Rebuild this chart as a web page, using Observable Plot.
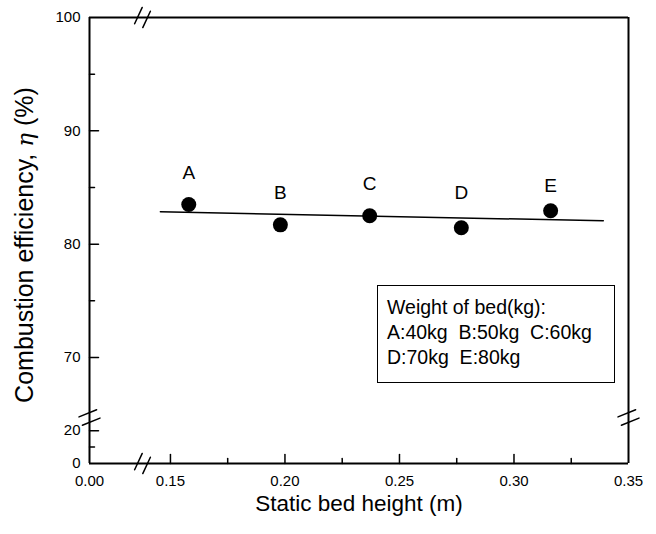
<!DOCTYPE html>
<html>
<head>
<meta charset="utf-8">
<script src="https://cdn.jsdelivr.net/npm/d3@7"></script>
<script src="https://cdn.jsdelivr.net/npm/@observablehq/plot@0.6"></script>
<style>
  html, body { margin: 0; padding: 0; background: #fff; }
  #wrap { position: relative; width: 656px; height: 534px; font-family: "Liberation Sans", Arial, sans-serif; }
  #legend { position: absolute; left: 377px; top: 285px; width: 238px; height: 98px; border: 1.5px solid #000; box-sizing: border-box; background: #fff; font-size: 19.5px; line-height: 25px; padding: 9px 0 0 9px; color: #000; white-space: nowrap; }
</style>
</head>
<body>
<div id="wrap"><div id="legend"><div>Weight of bed(kg):</div><div>A:40kg&nbsp;&nbsp;B:50kg&nbsp;&nbsp;C:60kg</div><div>D:70kg&nbsp;&nbsp;E:80kg</div></div></div>
<script>
// data
const names = ["A", "B", "C", "D", "E"];
const bedHeight = [0.158, 0.198, 0.237, 0.277, 0.316];
const efficiency = [83.5, 81.7, 82.5, 81.45, 82.95];
const labelLevel = [86.3, 84.55, 85.3, 84.55, 85.15];
const fitX = [0.1456, 0.339];
const fitY = [82.86, 82.06];
const xTickLabels = [0, 0.15, 0.20, 0.25, 0.30, 0.35];
const xMajorTicks = [0.15, 0.20, 0.25, 0.30];
const xMinorTicks = [0.175, 0.225, 0.275, 0.325];
const yTickLabels = [0, 20, 70, 80, 90, 100];
const yMajorTicks = [20, 70, 80, 90];
const yMinorTicks = [10, 75, 85, 95];
const xBreak = 0.1378;
const yBreakLow = 28, yBreakHigh = 64.7;

const points = names.map((n, i) => ({name: n, x: bedHeight[i], y: efficiency[i], ly: labelLevel[i]}));
const fit = fitX.map((x, i) => ({x, y: fitY[i]}));

const line = {draw(ctx, l) { ctx.moveTo(0, 0); ctx.lineTo(0, -l); }};
const slashes = {draw(ctx, l) { for (const g of [-4.5, 4.5]) { ctx.moveTo(g, 0); ctx.lineTo(g, -l); } }};

const font = "Liberation Sans, Arial, sans-serif";
const plot = Plot.plot({
  width: 656,
  height: 534,
  marginLeft: 89, marginRight: 28, marginTop: 17, marginBottom: 71,
  style: {fontFamily: font, fontSize: "15px", color: "#000", background: "transparent"},
  x: {type: "linear", domain: [0, 0.05, xBreak, 0.35], range: [89, 142, 142, 628], axis: null},
  y: {type: "linear", domain: [0, yBreakLow, yBreakHigh, 100], range: [463, 417, 417, 17], axis: null},
  marks: [
    // frame
    Plot.ruleX([0, 0.35], {y1: 0, y2: 100, stroke: "#000", strokeWidth: 2}),
    Plot.ruleY([0, 100], {x1: 0, x2: 0.35, stroke: "#000", strokeWidth: 2}),
    // ticks (inward)
    Plot.vector(yMajorTicks, {x: 0, y: d => d, length: 9, rotate: 90, anchor: "start", shape: line, stroke: "#000", strokeWidth: 1.5}),
    Plot.vector(yMinorTicks, {x: 0, y: d => d, length: 5, rotate: 90, anchor: "start", shape: line, stroke: "#000", strokeWidth: 1.5}),
    Plot.vector(xMajorTicks, {x: d => d, y: 0, length: 9, rotate: 0, anchor: "start", shape: line, stroke: "#000", strokeWidth: 1.5}),
    Plot.vector(xMinorTicks, {x: d => d, y: 0, length: 5, rotate: 0, anchor: "start", shape: line, stroke: "#000", strokeWidth: 1.5}),
    // axis break marks
    Plot.vector([100, 0], {x: xBreak, y: d => d, length: 18, rotate: 25, anchor: "middle", shape: slashes, stroke: "#000", strokeWidth: 1.5}),
    Plot.vector([0, 0.35], {x: d => d, y: yBreakLow, length: 19, rotate: 68, anchor: "middle", shape: slashes, stroke: "#000", strokeWidth: 1.5}),
    // tick labels
    Plot.axisY({ticks: yTickLabels, tickSize: 0, tickPadding: 9, label: null, fontSize: 15}),
    Plot.axisX({ticks: xTickLabels, tickSize: 0, tickPadding: 12, tickFormat: d3.format(".2f"), label: null, fontSize: 15}),
    // fit line
    Plot.line(fit, {x: "x", y: "y", stroke: "#000", strokeWidth: 1.5}),
    // data
    Plot.dot(points, {x: "x", y: "y", r: 7.5, fill: "#000", stroke: "none"}),
    Plot.text(points, {x: "x", y: "ly", text: "name", fontSize: 19}),
    // x title
    Plot.text(["Static bed height (m)"], {frameAnchor: "bottom", dy: 47, fontSize: 22.5})
  ]
});

const svg = d3.select(plot);
const t = svg.append("text")
  .attr("transform", "translate(33,245) rotate(-90)")
  .attr("text-anchor", "middle")
  .attr("font-size", 25)
  .attr("font-family", font)
  .attr("fill", "#000");
t.append("tspan").text("Combustion efficiency, ");
t.append("tspan").attr("font-family", "DejaVu Serif, serif").attr("font-style", "italic").attr("font-size", 23).text("η");
t.append("tspan").text(" (%)");

document.getElementById("wrap").insertBefore(plot, document.getElementById("legend"));
plot.style.position = "absolute";
plot.style.left = "0px";
plot.style.top = "0px";
</script>
</body>
</html>
